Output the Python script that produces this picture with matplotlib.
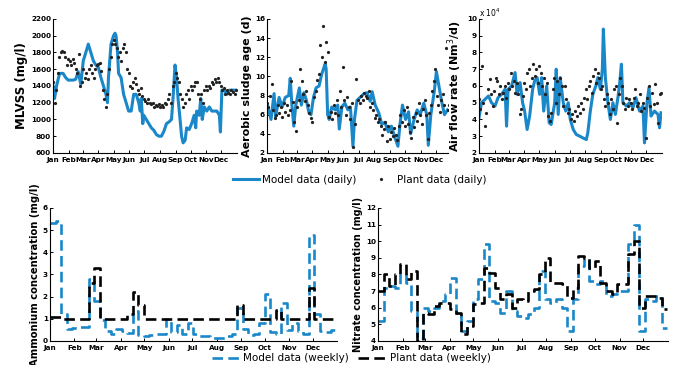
import matplotlib
matplotlib.use('Agg')
import matplotlib.pyplot as plt
import numpy as np

# ---- month ticks (day of year at month start) ----
month_days = [0, 31, 59, 90, 120, 151, 181, 212, 243, 273, 304, 334]
month_names = ['Jan', 'Feb', 'Mar', 'Apr', 'May', 'Jun', 'Jul', 'Aug', 'Sep', 'Oct', 'Nov', 'Dec']

# ---- MLVSS (mg/l) ----
mlvss_model_day = [0, 3, 7, 13, 15, 20, 25, 30, 35, 40, 45, 50, 55, 60, 65, 70, 75, 80, 85, 90,
                   95, 100, 105, 108, 110, 115, 120, 123, 125, 128, 130, 135, 140, 145, 150, 155,
                   160, 165, 170, 173, 175, 178, 180, 185, 190, 195, 200, 205, 210, 215, 220, 225,
                   230, 235, 238, 242, 245, 248, 252, 255, 258, 262, 265, 270, 275, 280, 283, 285,
                   290, 293, 296, 300, 305, 310, 315, 320, 325, 330, 332, 335, 340, 345, 350, 355,
                   360, 365]
mlvss_model = [1400, 1250, 1400, 1550, 1550, 1550, 1500, 1470, 1470, 1470, 1480, 1570, 1420, 1700,
               1800, 1900, 1800, 1700, 1650, 1620, 1500, 1400, 1300, 1200, 1500, 1900, 2000, 2030,
               2000, 1800, 1550, 1500, 1300, 1200, 1100, 1100, 1300, 1300, 1200, 1100, 1250, 950,
               1050, 1000, 950, 900, 870, 820, 800, 800, 860, 950, 970, 1000, 1250, 1650, 1500,
               1250, 1000, 800, 720, 750, 900, 880, 950, 1050, 900, 1100, 1050, 1250, 1000, 1150,
               1100, 1150, 1100, 1100, 1100, 1050, 850, 1350, 1350, 1300, 1350, 1350, 1350, 1350]
mlvss_plant = [1450, 1200, 1350, 1550, 1750, 1800, 1820, 1800, 1750, 1650, 1720, 1700, 1650, 1720,
               1680, 1600, 1550, 1780, 1400, 1450, 1600, 1500, 1550, 1480, 1600, 1650, 1550, 1500,
               1600, 1650, 1660, 1680, 1580, 1350, 1250, 1150, 1300, 1600, 1750, 1900, 1950, 1900,
               1850, 1750, 1800, 1700, 1850, 1900, 1800, 1600, 1550, 1400, 1380, 1450, 1500, 1420,
               1350, 1300, 1380, 1280, 1250, 1220, 1200, 1250, 1200, 1180, 1200, 1150, 1170, 1160,
               1180, 1150, 1170, 1150, 1200, 1180, 1250, 1300, 1200, 1400, 1450, 1550, 1500, 1450,
               1300, 1250, 1150, 1200, 1300, 1350, 1250, 1400, 1350, 1400, 1450, 1450, 1300, 1250,
               1300, 1200, 1350, 1400, 1350, 1400, 1380, 1450, 1420, 1480, 1450, 1500, 1450, 1400,
               1350, 1380, 1300, 1350, 1320, 1300, 1350, 1330, 1300, 1350]

# ---- aerobic sludge age (d) ----
sa_model_day = [1, 8, 14, 17, 24, 30, 36, 43, 46, 49, 53, 57, 64, 68, 73, 78, 83, 87, 92, 97, 103,
                108, 115, 117, 120, 123, 128, 135, 140, 143, 148, 154, 160, 165, 170, 173, 178,
                184, 192, 198, 204, 208, 214, 221, 227, 233, 240, 246, 253, 259, 263, 268, 274,
                280, 284, 291, 297, 303, 310, 316, 319, 324, 331, 335, 340, 345, 351, 357]
sa_model = [7.0, 5.5, 8.2, 5.8, 7.8, 6.8, 7.8, 8.0, 9.8, 7.2, 4.8, 7.0, 8.8, 7.0, 8.3, 7.5, 6.2,
            6.0, 7.8, 8.8, 9.0, 10.2, 11.3, 10.8, 6.0, 5.5, 6.8, 6.5, 7.0, 4.5, 6.8, 7.2, 6.5, 6.8,
            2.7, 5.5, 7.5, 7.8, 8.2, 8.3, 7.4, 8.4, 7.0, 6.2, 5.0, 5.2, 4.2, 4.8, 3.6, 2.7, 5.0,
            7.0, 5.5, 6.3, 4.0, 5.5, 6.5, 6.0, 7.2, 6.0, 2.8, 6.0, 8.5, 10.5, 9.0, 7.5, 6.0, 6.5]
sa_plant = [7.2, 6.8, 8.0, 9.2, 6.5, 5.7, 6.0, 7.0, 6.2, 6.8, 5.8, 7.2, 6.3, 7.0, 6.0, 6.5, 9.5,
            7.3, 5.2, 4.3, 6.8, 7.5, 10.8, 9.5, 8.2, 7.4, 8.5, 7.0, 6.2, 5.6, 5.2, 7.8, 8.5, 9.6,
            10.2, 13.3, 12.0, 15.3, 11.5, 13.6, 12.5, 5.8, 6.3, 5.5, 7.0, 6.2, 7.5, 6.0, 8.5, 6.8,
            11.0, 7.5, 6.0, 7.8, 6.8, 5.5, 7.2, 2.6, 5.0, 9.7, 7.5, 7.2, 8.0, 7.5, 8.3, 8.0, 7.7,
            8.5, 6.8, 7.2, 6.5, 5.6, 6.0, 5.2, 5.5, 4.8, 3.9, 4.5, 5.2, 3.2, 4.8, 3.5, 4.2, 3.8,
            4.6, 3.9, 3.4, 4.8, 6.0, 5.2, 6.5, 4.8, 6.8, 5.0, 4.2, 3.6, 5.8, 4.7, 6.2, 5.3, 7.2,
            6.0, 5.0, 6.6, 7.5, 6.0, 3.5, 6.2, 7.0, 8.5, 9.5, 10.8, 8.0, 7.0, 6.3, 7.5, 8.2, 7.0,
            13.0, 6.5, 7.0, 6.8]

# ---- air flow rate (x 1e4 Nm3/d) ----
air_model_day = [0, 5, 12, 19, 25, 32, 38, 45, 52, 55, 58, 65, 72, 76, 82, 87, 91, 96, 101, 107,
                 111, 116, 121, 125, 129, 135, 140, 144, 151, 154, 158, 162, 168, 173, 178, 182,
                 188, 194, 201, 207, 214, 217, 222, 227, 233, 237, 242, 246, 248, 252, 257, 262,
                 267, 272, 277, 280, 284, 287, 294, 300, 307, 313, 320, 327, 330, 335, 339, 343,
                 350, 357, 360, 363]
air_model = [4.1, 5.0, 5.2, 5.4, 5.0, 4.8, 5.3, 5.5, 5.8, 3.6, 5.8, 6.0, 6.8, 5.5, 6.2, 5.0, 4.5,
             3.4, 4.2, 5.8, 6.3, 6.5, 5.5, 6.5, 4.5, 6.0, 3.8, 3.7, 5.0, 7.0, 4.3, 6.5, 5.0, 4.5,
             5.0, 4.0, 3.4, 3.1, 3.0, 2.9, 2.8, 3.2, 4.5, 5.5, 6.0, 6.5, 5.8, 7.0, 9.4, 6.5, 5.0,
             4.0, 5.0, 4.3, 5.3, 6.0, 7.3, 5.0, 4.8, 5.0, 4.7, 5.3, 4.5, 4.8, 2.6, 5.0, 5.9, 4.2,
             4.5, 4.3, 3.5, 4.4]
air_plant = [5.2, 4.6, 7.2, 5.0, 3.6, 4.4, 5.8, 6.4, 5.5, 4.8, 5.7, 6.5, 6.3, 5.5, 6.0, 5.2, 5.6,
             6.0, 5.3, 6.2, 5.8, 6.8, 6.0, 6.3, 5.6, 6.2, 5.5, 4.3, 4.6, 5.4, 6.2, 5.8, 6.8, 7.0,
             6.0, 6.5, 7.3, 6.6, 7.0, 6.2, 7.2, 6.8, 6.0, 6.5, 5.5, 6.2, 4.2, 3.9, 4.4, 5.8, 6.5,
             5.0, 6.3, 5.5, 6.5, 6.0, 4.8, 6.0, 5.2, 4.4, 4.6, 4.0, 4.3, 3.9, 4.5, 4.2, 4.8, 4.4,
             5.0, 4.6, 5.3, 5.8, 5.2, 6.0, 6.3, 5.6, 6.6, 7.0, 6.2, 6.8, 6.5, 5.8, 6.0, 5.2, 4.8,
             5.5, 5.0, 4.3, 5.2, 4.6, 5.8, 6.0, 3.8, 5.5, 6.5, 6.0, 5.0, 4.6, 5.3, 4.8, 5.2, 5.0,
             4.6, 5.3, 5.8, 4.8, 5.0, 5.5, 4.5, 5.0, 4.7, 2.9, 5.3, 6.0, 4.8, 5.6, 4.9, 6.1, 5.0,
             3.8, 5.5, 5.6]

# ---- weekly ammonium (mg/l) ----
nh4_model = [5.3, 5.4, 1.2, 0.55, 0.6, 0.65, 0.65, 2.8, 1.8, 0.95, 0.45, 0.3, 0.55, 0.45, 0.35,
             1.35, 0.25, 0.2, 0.25, 0.3, 0.3, 1.0, 0.4, 0.7, 0.3, 0.8, 0.3, 0.2, 0.2, 0.15, 0.15,
             0.15, 0.2, 0.3, 1.5, 0.55, 0.25, 0.3, 0.8, 2.1, 0.4, 0.3, 1.7, 0.5, 0.8, 0.45, 0.3,
             4.8, 1.2, 0.45, 0.4, 0.5, 0.6]
nh4_plant = [1.1, 1.1, 1.0, 1.0, 1.0, 1.0, 1.0, 2.6, 3.3, 1.0, 1.0, 1.0, 1.0, 1.0, 1.2, 2.2, 1.6,
             1.0, 1.0, 1.0, 1.0, 1.0, 1.0, 1.0, 1.0, 1.0, 1.0, 1.0, 1.0, 1.0, 1.0, 1.0, 1.0, 1.0,
             1.6, 1.0, 1.0, 1.0, 1.0, 1.0, 1.0, 1.4, 1.0, 1.0, 1.0, 1.0, 1.0, 2.4, 1.0, 1.0, 1.0,
             1.0, 1.0]

# ---- weekly nitrate (mg/l) ----
no3_model = [5.2, 7.2, 7.3, 7.2, 8.0, 7.5, 5.8, 4.2, 6.0, 5.8, 6.0, 6.4, 6.8, 7.8, 5.5, 4.6, 5.2,
             6.5, 7.7, 9.8, 6.4, 6.3, 5.7, 7.0, 5.8, 5.5, 5.4, 5.6, 6.0, 8.2, 6.5, 6.3, 6.5, 6.0,
             4.6, 6.5, 8.5, 9.0, 7.6, 7.4, 7.6, 6.7, 6.8, 7.0, 7.0, 9.8, 11.0, 4.6, 6.5, 6.4, 6.7,
             4.8, 4.8]
no3_plant = [7.0, 8.0, 7.3, 8.0, 8.6, 7.7, 8.2, 4.0, 5.7, 5.6, 6.1, 6.3, 6.3, 5.9, 5.7, 4.4, 4.9,
             6.2, 6.3, 8.4, 8.1, 7.2, 6.5, 6.8, 6.0, 6.5, 6.4, 7.0, 7.1, 8.0, 9.0, 7.5, 7.5, 7.4,
             6.6, 7.2, 9.1, 9.0, 8.4, 8.8, 7.5, 7.0, 6.8, 7.4, 7.4, 9.2, 10.0, 6.0, 6.7, 6.7, 6.6,
             5.9, 5.9]

BLUE = '#1a87c9'
plt.rcParams['font.family'] = 'DejaVu Sans'


def style_axis(ax, xmax, ylim, yticks, tick_size=5.2):
    ax.spines['top'].set_visible(False)
    ax.spines['right'].set_visible(False)
    for s in ['left', 'bottom']:
        ax.spines[s].set_linewidth(0.8)
    ax.set_xlim(0, xmax)
    ax.set_ylim(*ylim)
    ax.set_yticks(yticks)
    ax.set_xticks(month_days)
    ax.set_xticklabels(month_names)
    ax.tick_params(direction='in', length=2.5, width=0.7, pad=1.5, labelsize=tick_size)
    ax.tick_params(axis='x', pad=3)
    for lab in ax.get_xticklabels() + ax.get_yticklabels():
        lab.set_fontweight('bold')


fig = plt.figure(figsize=(6.73, 3.65), dpi=100)

ax1 = fig.add_axes([0.0788, 0.581, 0.2734, 0.367])
ax2 = fig.add_axes([0.3967, 0.581, 0.269, 0.367])
ax3 = fig.add_axes([0.7117, 0.581, 0.272, 0.367])
ax4 = fig.add_axes([0.0743, 0.066, 0.4264, 0.3644])
ax5 = fig.add_axes([0.5617, 0.066, 0.4309, 0.3644])

# top row
pdays1 = 3 * np.arange(len(mlvss_plant))
ax1.plot(mlvss_model_day, mlvss_model, color=BLUE, lw=2.2, label='Model data (daily)')
ax1.plot(pdays1, mlvss_plant, 'o', color='#222222', ms=1.3, label='Plant data (daily)')
style_axis(ax1, 365, (600, 2200), np.arange(600, 2201, 200))
ax1.set_ylabel('MLVSS (mg/l)', fontsize=8.5, fontweight='bold', labelpad=2)

pdays2 = 3 * np.arange(len(sa_plant))
ax2.plot(sa_model_day, sa_model, color=BLUE, lw=2.2)
ax2.plot(pdays2, sa_plant, 'o', color='#222222', ms=1.3)
style_axis(ax2, 358, (2, 16), np.arange(2, 17, 2))
ax2.set_ylabel('Aerobic sludge age (d)', fontsize=8, fontweight='bold', labelpad=2)

pdays3 = 3 * np.arange(len(air_plant))
ax3.plot(air_model_day, air_model, color=BLUE, lw=2.2)
ax3.plot(pdays3, air_plant, 'o', color='#222222', ms=1.3)
style_axis(ax3, 365, (2, 10), np.arange(2, 11, 1))
ax3.set_ylabel('Air flow rate (Nm$^3$/d)', fontsize=8, fontweight='bold', labelpad=2)
ax3.text(0.0, 1.0, 'x 10$^4$', transform=ax3.transAxes, fontsize=5.5,
         ha='left', va='bottom')

# bottom row
wdays = 7 * np.arange(len(nh4_model))
ax4.step(wdays, nh4_model, where='post', color=BLUE, lw=1.9, ls=(0, (4, 2)),
         label='Model data (weekly)')
ax4.step(wdays, nh4_plant, where='post', color='black', lw=1.9, ls=(0, (4, 2)),
         label='Plant data (weekly)')
style_axis(ax4, 365, (0, 6), np.arange(0, 7, 1))
ax4.set_ylabel('Ammonium concentration (mg/l)', fontsize=7.2, fontweight='bold', labelpad=2)

wdays2 = 7 * np.arange(len(no3_model))
ax5.step(wdays2, no3_model, where='post', color=BLUE, lw=1.9, ls=(0, (4, 2)))
ax5.step(wdays2, no3_plant, where='post', color='black', lw=1.9, ls=(0, (4, 2)))
style_axis(ax5, 365, (4, 12), np.arange(4, 13, 1))
ax5.set_ylabel('Nitrate concentration (mg/l)', fontsize=7, fontweight='bold', labelpad=2)

# legends
h1, l1 = ax1.get_legend_handles_labels()
fig.legend(h1, l1, loc='center', bbox_to_anchor=(0.535, 0.507), ncol=2, frameon=False,
           fontsize=7.5, handlelength=2.5, columnspacing=1.1, markerscale=1.0,
           handletextpad=0.3, borderpad=0)
h4, l4 = ax4.get_legend_handles_labels()
fig.legend(h4, l4, loc='center', bbox_to_anchor=(0.522, 0.018), ncol=2, frameon=False,
           fontsize=7.5, handlelength=2.7, columnspacing=0.9, handletextpad=0.3, borderpad=0)

plt.savefig('out.png', dpi=100)
